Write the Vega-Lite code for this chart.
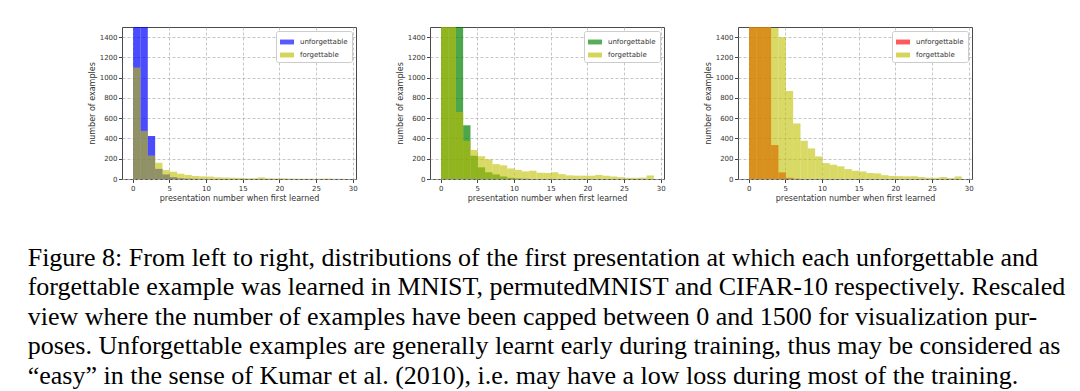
{
  "$schema": "https://vega.github.io/schema/vega-lite/v6.json",
  "padding": {"left": 27, "top": 26, "right": 5, "bottom": 0},
  "background": "white",
  "title": {
    "text": [
      "Figure 8: From left to right, distributions of the first presentation at which each unforgettable and",
      "forgettable example was learned in MNIST, permutedMNIST and CIFAR-10 respectively. Rescaled",
      "view where the number of examples have been capped between 0 and 1500 for visualization pur-",
      "poses. Unforgettable examples are generally learnt early during training, thus may be considered as",
      "“easy” in the sense of Kumar et al. (2010), i.e. may have a low loss during most of the training."
    ],
    "orient": "bottom",
    "anchor": "start",
    "font": "Liberation Serif",
    "fontSize": 26,
    "fontWeight": "normal",
    "color": "#000000",
    "lineHeight": 29.5,
    "offset": 42,
    "dx": -60
  },
  "data": {
    "values": [
      {"dataset": "MNIST", "group": "unforgettable", "start": 0, "end": 1, "count": 22000},
      {"dataset": "MNIST", "group": "unforgettable", "start": 1, "end": 2, "count": 9000},
      {"dataset": "MNIST", "group": "unforgettable", "start": 2, "end": 3, "count": 425},
      {"dataset": "MNIST", "group": "unforgettable", "start": 3, "end": 4, "count": 100},
      {"dataset": "MNIST", "group": "unforgettable", "start": 4, "end": 5, "count": 45},
      {"dataset": "MNIST", "group": "unforgettable", "start": 5, "end": 6, "count": 18},
      {"dataset": "MNIST", "group": "unforgettable", "start": 6, "end": 7, "count": 8},
      {"dataset": "MNIST", "group": "unforgettable", "start": 7, "end": 8, "count": 4},
      {"dataset": "MNIST", "group": "unforgettable", "start": 8, "end": 9, "count": 2},
      {"dataset": "MNIST", "group": "unforgettable", "start": 9, "end": 10, "count": 1},
      {"dataset": "MNIST", "group": "forgettable", "start": 0, "end": 1, "count": 1100},
      {"dataset": "MNIST", "group": "forgettable", "start": 1, "end": 2, "count": 475},
      {"dataset": "MNIST", "group": "forgettable", "start": 2, "end": 3, "count": 231},
      {"dataset": "MNIST", "group": "forgettable", "start": 3, "end": 4, "count": 160},
      {"dataset": "MNIST", "group": "forgettable", "start": 4, "end": 5, "count": 88},
      {"dataset": "MNIST", "group": "forgettable", "start": 5, "end": 6, "count": 72},
      {"dataset": "MNIST", "group": "forgettable", "start": 6, "end": 7, "count": 52},
      {"dataset": "MNIST", "group": "forgettable", "start": 7, "end": 8, "count": 40},
      {"dataset": "MNIST", "group": "forgettable", "start": 8, "end": 9, "count": 30},
      {"dataset": "MNIST", "group": "forgettable", "start": 9, "end": 10, "count": 26},
      {"dataset": "MNIST", "group": "forgettable", "start": 10, "end": 11, "count": 24},
      {"dataset": "MNIST", "group": "forgettable", "start": 11, "end": 12, "count": 17},
      {"dataset": "MNIST", "group": "forgettable", "start": 12, "end": 13, "count": 15},
      {"dataset": "MNIST", "group": "forgettable", "start": 13, "end": 14, "count": 13},
      {"dataset": "MNIST", "group": "forgettable", "start": 14, "end": 15, "count": 11},
      {"dataset": "MNIST", "group": "forgettable", "start": 15, "end": 16, "count": 7},
      {"dataset": "MNIST", "group": "forgettable", "start": 16, "end": 17, "count": 8},
      {"dataset": "MNIST", "group": "forgettable", "start": 17, "end": 18, "count": 16},
      {"dataset": "MNIST", "group": "forgettable", "start": 18, "end": 19, "count": 7},
      {"dataset": "MNIST", "group": "forgettable", "start": 19, "end": 20, "count": 6},
      {"dataset": "MNIST", "group": "forgettable", "start": 20, "end": 21, "count": 7},
      {"dataset": "MNIST", "group": "forgettable", "start": 21, "end": 22, "count": 4},
      {"dataset": "MNIST", "group": "forgettable", "start": 22, "end": 23, "count": 3},
      {"dataset": "MNIST", "group": "forgettable", "start": 23, "end": 24, "count": 3},
      {"dataset": "MNIST", "group": "forgettable", "start": 24, "end": 25, "count": 2},
      {"dataset": "MNIST", "group": "forgettable", "start": 25, "end": 26, "count": 3},
      {"dataset": "MNIST", "group": "forgettable", "start": 26, "end": 27, "count": 5},
      {"dataset": "MNIST", "group": "forgettable", "start": 27, "end": 28, "count": 2},
      {"dataset": "MNIST", "group": "forgettable", "start": 28, "end": 29, "count": 2},
      {"dataset": "permutedMNIST", "group": "unforgettable", "start": 0, "end": 1, "count": 20000},
      {"dataset": "permutedMNIST", "group": "unforgettable", "start": 1, "end": 2, "count": 15000},
      {"dataset": "permutedMNIST", "group": "unforgettable", "start": 2, "end": 3, "count": 5000},
      {"dataset": "permutedMNIST", "group": "unforgettable", "start": 3, "end": 4, "count": 530},
      {"dataset": "permutedMNIST", "group": "unforgettable", "start": 4, "end": 5, "count": 230},
      {"dataset": "permutedMNIST", "group": "unforgettable", "start": 5, "end": 6, "count": 115},
      {"dataset": "permutedMNIST", "group": "unforgettable", "start": 6, "end": 7, "count": 66},
      {"dataset": "permutedMNIST", "group": "unforgettable", "start": 7, "end": 8, "count": 45},
      {"dataset": "permutedMNIST", "group": "unforgettable", "start": 8, "end": 9, "count": 25},
      {"dataset": "permutedMNIST", "group": "unforgettable", "start": 9, "end": 10, "count": 12},
      {"dataset": "permutedMNIST", "group": "unforgettable", "start": 10, "end": 11, "count": 6},
      {"dataset": "permutedMNIST", "group": "unforgettable", "start": 11, "end": 12, "count": 3},
      {"dataset": "permutedMNIST", "group": "forgettable", "start": 0, "end": 1, "count": 6000},
      {"dataset": "permutedMNIST", "group": "forgettable", "start": 1, "end": 2, "count": 3000},
      {"dataset": "permutedMNIST", "group": "forgettable", "start": 2, "end": 3, "count": 660},
      {"dataset": "permutedMNIST", "group": "forgettable", "start": 3, "end": 4, "count": 377},
      {"dataset": "permutedMNIST", "group": "forgettable", "start": 4, "end": 5, "count": 286},
      {"dataset": "permutedMNIST", "group": "forgettable", "start": 5, "end": 6, "count": 225},
      {"dataset": "permutedMNIST", "group": "forgettable", "start": 6, "end": 7, "count": 195},
      {"dataset": "permutedMNIST", "group": "forgettable", "start": 7, "end": 8, "count": 147},
      {"dataset": "permutedMNIST", "group": "forgettable", "start": 8, "end": 9, "count": 135},
      {"dataset": "permutedMNIST", "group": "forgettable", "start": 9, "end": 10, "count": 104},
      {"dataset": "permutedMNIST", "group": "forgettable", "start": 10, "end": 11, "count": 90},
      {"dataset": "permutedMNIST", "group": "forgettable", "start": 11, "end": 12, "count": 75},
      {"dataset": "permutedMNIST", "group": "forgettable", "start": 12, "end": 13, "count": 82},
      {"dataset": "permutedMNIST", "group": "forgettable", "start": 13, "end": 14, "count": 62},
      {"dataset": "permutedMNIST", "group": "forgettable", "start": 14, "end": 15, "count": 60},
      {"dataset": "permutedMNIST", "group": "forgettable", "start": 15, "end": 16, "count": 66},
      {"dataset": "permutedMNIST", "group": "forgettable", "start": 16, "end": 17, "count": 48},
      {"dataset": "permutedMNIST", "group": "forgettable", "start": 17, "end": 18, "count": 36},
      {"dataset": "permutedMNIST", "group": "forgettable", "start": 18, "end": 19, "count": 33},
      {"dataset": "permutedMNIST", "group": "forgettable", "start": 19, "end": 20, "count": 33},
      {"dataset": "permutedMNIST", "group": "forgettable", "start": 20, "end": 21, "count": 32},
      {"dataset": "permutedMNIST", "group": "forgettable", "start": 21, "end": 22, "count": 40},
      {"dataset": "permutedMNIST", "group": "forgettable", "start": 22, "end": 23, "count": 32},
      {"dataset": "permutedMNIST", "group": "forgettable", "start": 23, "end": 24, "count": 25},
      {"dataset": "permutedMNIST", "group": "forgettable", "start": 24, "end": 25, "count": 18},
      {"dataset": "permutedMNIST", "group": "forgettable", "start": 25, "end": 26, "count": 12},
      {"dataset": "permutedMNIST", "group": "forgettable", "start": 26, "end": 27, "count": 12},
      {"dataset": "permutedMNIST", "group": "forgettable", "start": 27, "end": 28, "count": 14},
      {"dataset": "permutedMNIST", "group": "forgettable", "start": 28, "end": 29, "count": 35},
      {"dataset": "CIFAR-10", "group": "unforgettable", "start": 0, "end": 1, "count": 5000},
      {"dataset": "CIFAR-10", "group": "unforgettable", "start": 1, "end": 2, "count": 4000},
      {"dataset": "CIFAR-10", "group": "unforgettable", "start": 2, "end": 3, "count": 2500},
      {"dataset": "CIFAR-10", "group": "unforgettable", "start": 3, "end": 4, "count": 335},
      {"dataset": "CIFAR-10", "group": "unforgettable", "start": 4, "end": 5, "count": 65},
      {"dataset": "CIFAR-10", "group": "unforgettable", "start": 5, "end": 6, "count": 12},
      {"dataset": "CIFAR-10", "group": "unforgettable", "start": 6, "end": 7, "count": 3},
      {"dataset": "CIFAR-10", "group": "forgettable", "start": 0, "end": 1, "count": 2500},
      {"dataset": "CIFAR-10", "group": "forgettable", "start": 1, "end": 2, "count": 3000},
      {"dataset": "CIFAR-10", "group": "forgettable", "start": 2, "end": 3, "count": 2200},
      {"dataset": "CIFAR-10", "group": "forgettable", "start": 3, "end": 4, "count": 1490},
      {"dataset": "CIFAR-10", "group": "forgettable", "start": 4, "end": 5, "count": 1400},
      {"dataset": "CIFAR-10", "group": "forgettable", "start": 5, "end": 6, "count": 869},
      {"dataset": "CIFAR-10", "group": "forgettable", "start": 6, "end": 7, "count": 548},
      {"dataset": "CIFAR-10", "group": "forgettable", "start": 7, "end": 8, "count": 377},
      {"dataset": "CIFAR-10", "group": "forgettable", "start": 8, "end": 9, "count": 302},
      {"dataset": "CIFAR-10", "group": "forgettable", "start": 9, "end": 10, "count": 223},
      {"dataset": "CIFAR-10", "group": "forgettable", "start": 10, "end": 11, "count": 157},
      {"dataset": "CIFAR-10", "group": "forgettable", "start": 11, "end": 12, "count": 141},
      {"dataset": "CIFAR-10", "group": "forgettable", "start": 12, "end": 13, "count": 125},
      {"dataset": "CIFAR-10", "group": "forgettable", "start": 13, "end": 14, "count": 98},
      {"dataset": "CIFAR-10", "group": "forgettable", "start": 14, "end": 15, "count": 82},
      {"dataset": "CIFAR-10", "group": "forgettable", "start": 15, "end": 16, "count": 75},
      {"dataset": "CIFAR-10", "group": "forgettable", "start": 16, "end": 17, "count": 59},
      {"dataset": "CIFAR-10", "group": "forgettable", "start": 17, "end": 18, "count": 55},
      {"dataset": "CIFAR-10", "group": "forgettable", "start": 18, "end": 19, "count": 38},
      {"dataset": "CIFAR-10", "group": "forgettable", "start": 19, "end": 20, "count": 30},
      {"dataset": "CIFAR-10", "group": "forgettable", "start": 20, "end": 21, "count": 28},
      {"dataset": "CIFAR-10", "group": "forgettable", "start": 21, "end": 22, "count": 26},
      {"dataset": "CIFAR-10", "group": "forgettable", "start": 22, "end": 23, "count": 27},
      {"dataset": "CIFAR-10", "group": "forgettable", "start": 23, "end": 24, "count": 20},
      {"dataset": "CIFAR-10", "group": "forgettable", "start": 24, "end": 25, "count": 14},
      {"dataset": "CIFAR-10", "group": "forgettable", "start": 25, "end": 26, "count": 12},
      {"dataset": "CIFAR-10", "group": "forgettable", "start": 26, "end": 27, "count": 20},
      {"dataset": "CIFAR-10", "group": "forgettable", "start": 27, "end": 28, "count": 10},
      {"dataset": "CIFAR-10", "group": "forgettable", "start": 28, "end": 29, "count": 25}
    ]
  },
  "bounds": "flush",
  "spacing": 74,
  "resolve": {"scale": {"color": "independent"}},
  "hconcat": [
    {
      "width": 234,
      "height": 152,
      "transform": [{"filter": "datum.dataset === 'MNIST'"}],
      "encoding": {
        "x": {"field": "start", "type": "quantitative", "bin": "binned", "scale": {"domain": [-1.45, 30.45], "nice": false, "zero": false}, "axis": {"values": [0, 5, 10, 15, 20, 25, 30], "format": "d", "grid": true, "title": "presentation number when first learned"}},
        "x2": {"field": "end"},
        "y": {"field": "count", "type": "quantitative", "stack": null, "scale": {"domain": [0, 1500], "nice": false}, "axis": {"values": [0, 200, 400, 600, 800, 1000, 1200, 1400], "format": "d", "title": "number of examples"}},
        "color": {"field": "group", "type": "nominal", "scale": {"domain": ["unforgettable", "forgettable"], "range": ["#0000ff", "#bfbf00"]}, "legend": {"title": null}}
      },
      "layer": [
        {"transform": [{"filter": "datum.group === 'unforgettable'"}], "mark": {"type": "bar", "clip": true, "opacity": 0.7, "binSpacing": 0}},
        {"transform": [{"filter": "datum.group === 'forgettable'"}], "mark": {"type": "bar", "clip": true, "opacity": 0.6, "binSpacing": 0}}
      ]
    },
    {
      "width": 234,
      "height": 152,
      "transform": [{"filter": "datum.dataset === 'permutedMNIST'"}],
      "encoding": {
        "x": {"field": "start", "type": "quantitative", "bin": "binned", "scale": {"domain": [-1.45, 30.45], "nice": false, "zero": false}, "axis": {"values": [0, 5, 10, 15, 20, 25, 30], "format": "d", "grid": true, "title": "presentation number when first learned"}},
        "x2": {"field": "end"},
        "y": {"field": "count", "type": "quantitative", "stack": null, "scale": {"domain": [0, 1500], "nice": false}, "axis": {"values": [0, 200, 400, 600, 800, 1000, 1200, 1400], "format": "d", "title": "number of examples"}},
        "color": {"field": "group", "type": "nominal", "scale": {"domain": ["unforgettable", "forgettable"], "range": ["#008000", "#bfbf00"]}, "legend": {"title": null}}
      },
      "layer": [
        {"transform": [{"filter": "datum.group === 'unforgettable'"}], "mark": {"type": "bar", "clip": true, "opacity": 0.7, "binSpacing": 0}},
        {"transform": [{"filter": "datum.group === 'forgettable'"}], "mark": {"type": "bar", "clip": true, "opacity": 0.6, "binSpacing": 0}}
      ]
    },
    {
      "width": 234,
      "height": 152,
      "transform": [{"filter": "datum.dataset === 'CIFAR-10'"}],
      "encoding": {
        "x": {"field": "start", "type": "quantitative", "bin": "binned", "scale": {"domain": [-1.45, 30.45], "nice": false, "zero": false}, "axis": {"values": [0, 5, 10, 15, 20, 25, 30], "format": "d", "grid": true, "title": "presentation number when first learned"}},
        "x2": {"field": "end"},
        "y": {"field": "count", "type": "quantitative", "stack": null, "scale": {"domain": [0, 1500], "nice": false}, "axis": {"values": [0, 200, 400, 600, 800, 1000, 1200, 1400], "format": "d", "title": "number of examples"}},
        "color": {"field": "group", "type": "nominal", "scale": {"domain": ["unforgettable", "forgettable"], "range": ["#ff0000", "#bfbf00"]}, "legend": {"title": null}}
      },
      "layer": [
        {"transform": [{"filter": "datum.group === 'unforgettable'"}], "mark": {"type": "bar", "clip": true, "opacity": 0.7, "binSpacing": 0}},
        {"transform": [{"filter": "datum.group === 'forgettable'"}], "mark": {"type": "bar", "clip": true, "opacity": 0.6, "binSpacing": 0}}
      ]
    }
  ],
  "config": {
    "view": {"stroke": "#4a4a4a", "strokeWidth": 1},
    "axis": {
      "domain": false,
      "labelFont": "DejaVu Sans",
      "labelFontSize": 7,
      "labelColor": "#333333",
      "tickColor": "#444444",
      "tickSize": 3.5,
      "labelPadding": 1.5,
      "gridColor": "#b8b8b8",
      "gridDash": [3, 2],
      "gridWidth": 0.8,
      "titleFont": "DejaVu Sans",
      "titleFontSize": 8,
      "titleFontWeight": "normal",
      "titleColor": "#333333",
      "titlePadding": 3
    },
    "legend": {
      "orient": "top-right",
      "offset": 4,
      "padding": 4,
      "fillColor": "white",
      "strokeColor": "#cccccc",
      "cornerRadius": 2,
      "labelFont": "DejaVu Sans",
      "labelFontSize": 7,
      "labelColor": "#333333",
      "labelOffset": 6,
      "rowPadding": 3,
      "symbolType": "M-1,-0.35H1V0.35H-1Z",
      "symbolSize": 196,
      "symbolOpacity": 0.65,
      "symbolStrokeWidth": 0
    }
  }
}
